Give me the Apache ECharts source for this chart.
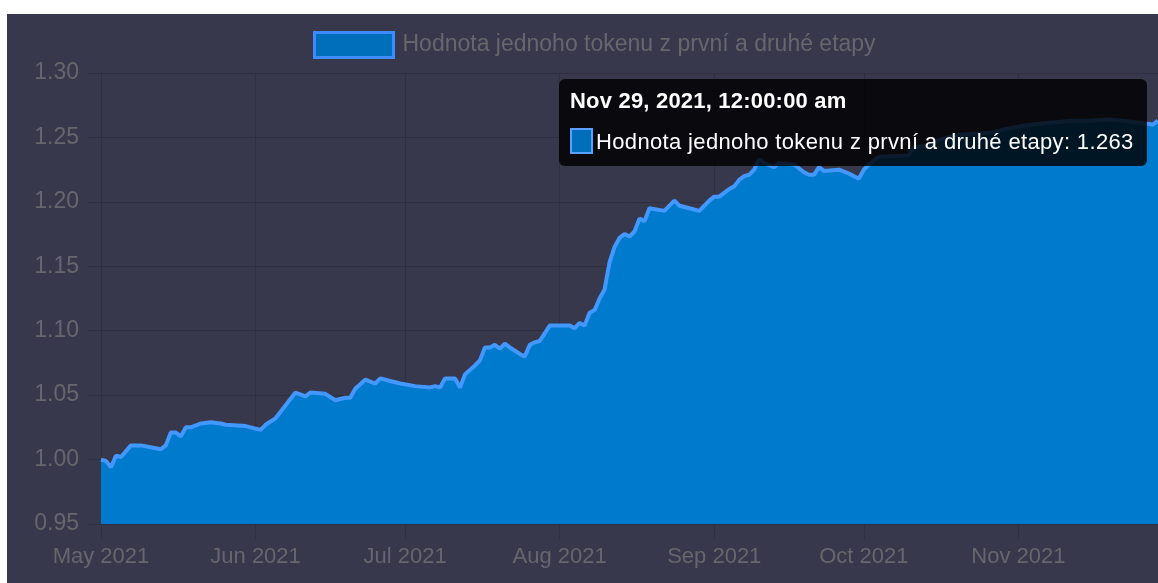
<!DOCTYPE html>
<html>
<head>
<meta charset="utf-8">
<script src="https://cdn.jsdelivr.net/npm/echarts@6/dist/echarts.min.js"></script>
<style>
html,body{margin:0;padding:0;background:#ffffff;width:1158px;height:583px;overflow:hidden;}
#chart{position:absolute;left:7px;top:14px;width:1151px;height:569px;background:#38384d;}
</style>
</head>
<body>
<div id="chart"></div>
<script>
var seriesName = 'Hodnota jednoho tokenu z první a druhé etapy';
var dates = [
'2021-05-01','2021-05-02','2021-05-03','2021-05-04','2021-05-05','2021-05-07','2021-05-09','2021-05-13','2021-05-14','2021-05-15',
'2021-05-16','2021-05-17','2021-05-18','2021-05-19','2021-05-21','2021-05-23','2021-05-25','2021-05-26','2021-05-30','2021-06-02',
'2021-06-03','2021-06-05','2021-06-07','2021-06-09','2021-06-11','2021-06-12','2021-06-15','2021-06-17','2021-06-19','2021-06-20',
'2021-06-21','2021-06-23','2021-06-25','2021-06-26','2021-06-28','2021-06-30','2021-07-03','2021-07-06','2021-07-07','2021-07-08',
'2021-07-09','2021-07-11','2021-07-12','2021-07-13','2021-07-15','2021-07-16','2021-07-17','2021-07-18','2021-07-19','2021-07-20',
'2021-07-21','2021-07-22','2021-07-24','2021-07-25','2021-07-26','2021-07-27','2021-07-28','2021-07-30','2021-08-01','2021-08-03',
'2021-08-04','2021-08-05','2021-08-06','2021-08-07','2021-08-08','2021-08-09','2021-08-10','2021-08-11','2021-08-12','2021-08-13',
'2021-08-14','2021-08-15','2021-08-16','2021-08-17','2021-08-18','2021-08-19','2021-08-22','2021-08-24','2021-08-25','2021-08-27',
'2021-08-29','2021-08-31','2021-09-01','2021-09-02','2021-09-04','2021-09-05','2021-09-06','2021-09-07','2021-09-08','2021-09-09',
'2021-09-10','2021-09-11','2021-09-13','2021-09-14','2021-09-17','2021-09-19','2021-09-20','2021-09-21','2021-09-22','2021-09-23',
'2021-09-26','2021-09-28','2021-09-30','2021-10-01','2021-10-02','2021-10-04','2021-10-10','2021-10-11','2021-10-14','2021-10-16',
'2021-10-20','2021-10-24','2021-10-27','2021-10-30','2021-11-02','2021-11-06','2021-11-09','2021-11-12','2021-11-15','2021-11-19',
'2021-11-22','2021-11-26','2021-11-28','2021-11-29'
];
var values = [
1.000,0.999,0.994,1.003,1.002,1.011,1.011,1.008,1.011,1.021,
1.021,1.018,1.025,1.025,1.028,1.029,1.028,1.027,1.026,1.023,
1.027,1.032,1.042,1.052,1.049,1.052,1.051,1.046,1.048,1.048,
1.055,1.062,1.059,1.063,1.061,1.059,1.057,1.056,1.057,1.056,
1.063,1.063,1.056,1.066,1.073,1.077,1.087,1.087,1.089,1.086,
1.090,1.087,1.082,1.080,1.089,1.091,1.092,1.104,1.104,1.104,
1.102,1.106,1.104,1.114,1.116,1.125,1.132,1.153,1.165,1.172,
1.175,1.173,1.177,1.187,1.185,1.195,1.193,1.201,1.197,1.195,
1.193,1.201,1.204,1.204,1.210,1.212,1.217,1.220,1.221,1.225,
1.233,1.230,1.227,1.230,1.229,1.223,1.221,1.221,1.227,1.224,
1.225,1.222,1.218,1.225,1.229,1.235,1.236,1.242,1.244,1.248,
1.252,1.253,1.254,1.257,1.259,1.261,1.262,1.263,1.263,1.264,
1.263,1.261,1.260,1.263
];
var monthNames = ['Jan','Feb','Mar','Apr','May','Jun','Jul','Aug','Sep','Oct','Nov','Dec'];
var yMin = 0.95, yMax = 1.30, yStep = 0.05;
var xMin = '2021-05-01', xMax = '2021-11-29';

var gridColor = '#2f2f42';
var labelColor = '#66666c';
var font = '"Liberation Sans", Arial, sans-serif';
var cssFont = "'Liberation Sans', Arial, sans-serif";

var data = dates.map(function(d, i){ return [d, values[i]]; });

var chart = echarts.init(document.getElementById('chart'), null, {renderer:'canvas'});
chart.setOption({
  backgroundColor: '#38384d',
  animation: false,
  textStyle: {fontFamily: font},
  legend: {
    show: true,
    left: 301, top: 12,
    icon: 'rect',
    itemWidth: 79, itemHeight: 25,
    itemStyle: {color:'#006fbb', borderColor:'#3d8bff', borderWidth:3},
    textStyle: {color: labelColor, fontSize: 23, fontFamily: font, padding:[0,0,0,4]},
    data: [seriesName]
  },
  grid: {left: 94, right: 0, top: 59, bottom: 59, containLabel: false},
  tooltip: {
    trigger: 'axis',
    alwaysShowContent: true,
    transitionDuration: 0,
    axisPointer: {type: 'none'},
    position: [552, 65],
    backgroundColor: 'rgba(0,0,0,0.82)',
    borderWidth: 0,
    padding: [9, 13, 11, 11],
    extraCssText: 'border-radius:6px;box-shadow:none;',
    formatter: function(params){
      var p = params[0];
      var d = new Date(p.value[0]);
      var title = monthNames[d.getMonth()] + ' ' + d.getDate() + ', ' + d.getFullYear() + ', 12:00:00 am';
      return '<div style="font:bold 22px ' + cssFont + ';letter-spacing:0.2px;color:#fff;line-height:26px;white-space:nowrap;">' + title + '</div>' +
        '<div style="margin-top:14px;font:22px ' + cssFont + ';letter-spacing:0.35px;color:#fff;line-height:26px;white-space:nowrap;">' +
        '<span style="display:inline-block;vertical-align:-5px;width:19px;height:22px;background:#006fbb;border:2px solid #5aa0ff;margin-right:3px;"></span>' +
        p.seriesName + ': ' + p.value[1].toFixed(3) + '</div>';
    }
  },
  xAxis: {
    type: 'time',
    min: xMin, max: xMax,
    minInterval: 28*86400000, maxInterval: 31*86400000,
    axisLine: {show: true, lineStyle: {color: gridColor, width: 1}},
    axisTick: {show: true, length: 15, lineStyle: {color: gridColor}},
    splitLine: {show: true, lineStyle: {color: gridColor, width: 1}},
    axisLabel: {
      color: labelColor, fontSize: 22, fontFamily: font, margin: 22,
      formatter: function(v){ var d = new Date(v); return monthNames[d.getMonth()] + ' ' + d.getFullYear(); }
    }
  },
  yAxis: {
    type: 'value',
    min: yMin, max: yMax, interval: yStep,
    axisLine: {show: true, lineStyle: {color: gridColor, width: 1}},
    axisTick: {show: true, length: 14, lineStyle: {color: gridColor}},
    splitLine: {show: true, lineStyle: {color: gridColor, width: 1}},
    axisLabel: {
      color: labelColor, fontSize: 23, fontFamily: font, margin: 22,
      formatter: function(v){ return v.toFixed(2); }
    }
  },
  series: [{
    name: seriesName,
    type: 'line',
    data: data,
    showSymbol: false,
    symbol: 'none',
    lineStyle: {color: '#3d8bff', width: 4},
    itemStyle: {color: '#006fbb', borderColor: '#3d8bff'},
    areaStyle: {color: '#006fbb', opacity: 1},
    z: 2
  }]
});
chart.dispatchAction({type: 'showTip', seriesIndex: 0, dataIndex: values.length - 1});
</script>
</body>
</html>
